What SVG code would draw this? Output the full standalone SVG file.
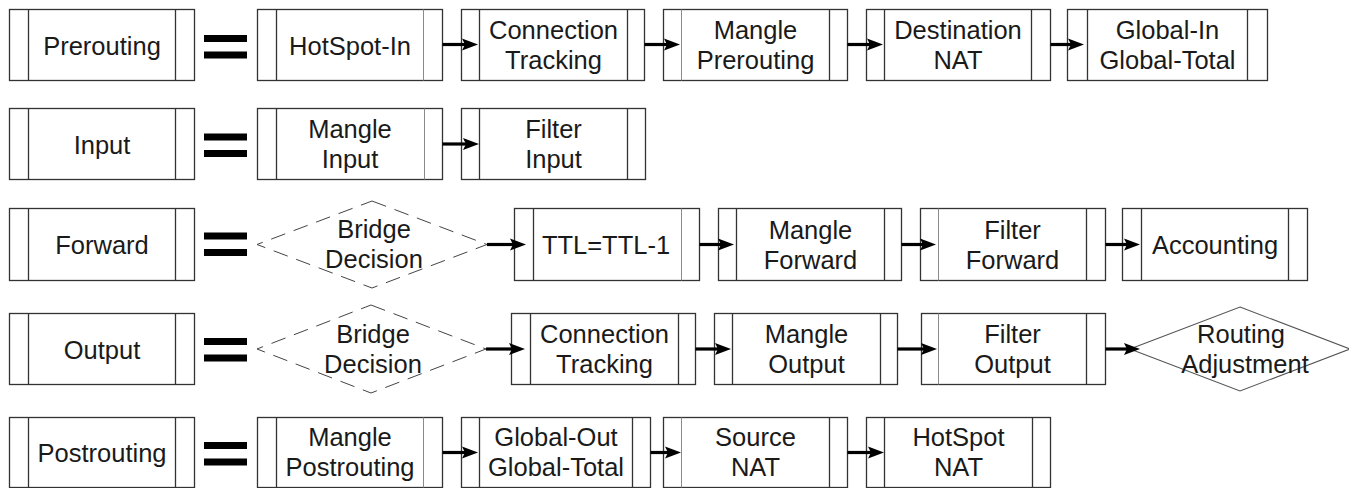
<svg xmlns="http://www.w3.org/2000/svg" width="1349" height="488" viewBox="0 0 1349 488">
  <style>
    .frame { fill: #ffffff; stroke: #333333; stroke-width: 1.3; }
    .band { stroke: #333333; stroke-width: 1.3; fill: none; }
    .band-lt { stroke: #8a8a8a; stroke-width: 1; fill: none; }
    .lbl { font-family: "Liberation Sans", Arial, Helvetica, sans-serif; font-size: 25.5px; fill: #1a1a1a; text-anchor: middle; }
    .eq { fill: #000000; }
    .decision { fill: none; stroke: #444444; stroke-width: 1; stroke-dasharray: 15 9; }
    .routing { fill: #ffffff; stroke: #555555; stroke-width: 1.1; }
    .link { stroke: #000000; stroke-width: 3.2; fill: none; marker-end: url(#head); }
  </style>
  <defs>
    <marker id="head" markerUnits="userSpaceOnUse" markerWidth="18" markerHeight="14" viewBox="0 0 18 14" refX="8" refY="7" orient="auto">
      <path d="M0,1 L16,7 L0,13 L3,7 Z" fill="#000000"/>
    </marker>
  </defs>

  <!-- row 1 : Prerouting -->
  <g id="prerouting">
    <rect class="frame" x="9.5" y="9.5" width="185" height="71"/>
    <path class="band" d="M28.5,9.5 V80.5 M175.5,9.5 V80.5"/>
    <text class="lbl" x="102" y="54.5">Prerouting</text>
  </g>
  <g id="eq-prerouting">
    <rect class="eq" x="204" y="35" width="43" height="7"/>
    <rect class="eq" x="204" y="51.5" width="43" height="7"/>
  </g>
  <g id="hotspot-in">
    <rect class="frame" x="257.5" y="9.5" width="185" height="71"/>
    <path class="band" d="M276.5,9.5 V80.5"/>
    <path class="band-lt" d="M423.5,9.5 V80.5"/>
    <text class="lbl" x="350" y="54.5">HotSpot-In</text>
  </g>
  <g id="conntrack-pre">
    <rect class="frame" x="461.5" y="9.5" width="183" height="71"/>
    <path class="band" d="M479.5,9.5 V80.5 M627.5,9.5 V80.5"/>
    <text class="lbl" x="553.5" y="38.5">Connection</text>
    <text class="lbl" x="553.5" y="68.5">Tracking</text>
  </g>
  <g id="mangle-prerouting">
    <rect class="frame" x="663.5" y="9.5" width="184" height="71"/>
    <path class="band-lt" d="M681.5,9.5 V80.5"/>
    <path class="band" d="M829.5,9.5 V80.5"/>
    <text class="lbl" x="755.5" y="38.5">Mangle</text>
    <text class="lbl" x="755.5" y="68.5">Prerouting</text>
  </g>
  <g id="dnat">
    <rect class="frame" x="866.5" y="9.5" width="184" height="71"/>
    <path class="band" d="M884.5,9.5 V80.5 M1031.5,9.5 V80.5"/>
    <text class="lbl" x="958" y="38.5">Destination</text>
    <text class="lbl" x="958" y="68.5">NAT</text>
  </g>
  <g id="global-in">
    <rect class="frame" x="1067.5" y="9.5" width="200" height="71"/>
    <path class="band" d="M1087.5,9.5 V80.5 M1247.5,9.5 V80.5"/>
    <text class="lbl" x="1167.5" y="38.5">Global-In</text>
    <text class="lbl" x="1167.5" y="68.5">Global-Total</text>
  </g>

  <!-- row 2 : Input -->
  <g id="input">
    <rect class="frame" x="9.5" y="108.5" width="185" height="71"/>
    <path class="band" d="M28.5,108.5 V179.5 M175.5,108.5 V179.5"/>
    <text class="lbl" x="102" y="153.5">Input</text>
  </g>
  <g id="eq-input">
    <rect class="eq" x="204" y="133.5" width="43" height="7"/>
    <rect class="eq" x="204" y="150" width="43" height="7"/>
  </g>
  <g id="mangle-input">
    <rect class="frame" x="257.5" y="108.5" width="185" height="71"/>
    <path class="band" d="M276.5,108.5 V179.5"/>
    <path class="band-lt" d="M424.5,108.5 V179.5"/>
    <text class="lbl" x="350" y="138">Mangle</text>
    <text class="lbl" x="350" y="168">Input</text>
  </g>
  <g id="filter-input">
    <rect class="frame" x="461.5" y="108.5" width="184" height="71"/>
    <path class="band" d="M479.5,108.5 V179.5 M627.5,108.5 V179.5"/>
    <text class="lbl" x="553.5" y="138">Filter</text>
    <text class="lbl" x="553.5" y="168">Input</text>
  </g>

  <!-- row 3 : Forward -->
  <g id="forward">
    <rect class="frame" x="9.5" y="208.5" width="185" height="72"/>
    <path class="band" d="M28.5,208.5 V280.5 M175.5,208.5 V280.5"/>
    <text class="lbl" x="102" y="254">Forward</text>
  </g>
  <g id="eq-forward">
    <rect class="eq" x="204" y="232.5" width="43" height="7"/>
    <rect class="eq" x="204" y="249" width="43" height="7"/>
  </g>
  <g id="bridge-forward">
    <path class="decision" d="M372,201 L487,244.5 L372,288 L257,244.5 Z"/>
    <text class="lbl" x="374" y="238">Bridge</text>
    <text class="lbl" x="374" y="268">Decision</text>
  </g>
  <g id="ttl">
    <rect class="frame" x="514.5" y="208.5" width="185" height="72"/>
    <path class="band" d="M533.5,208.5 V280.5"/>
    <path class="band-lt" d="M681.5,208.5 V280.5"/>
    <text class="lbl" x="606" y="254">TTL=TTL-1</text>
  </g>
  <g id="mangle-forward">
    <rect class="frame" x="718.5" y="208.5" width="183" height="72"/>
    <path class="band" d="M736.5,208.5 V280.5 M884.5,208.5 V280.5"/>
    <text class="lbl" x="810.5" y="238.5">Mangle</text>
    <text class="lbl" x="810.5" y="268.5">Forward</text>
  </g>
  <g id="filter-forward">
    <rect class="frame" x="920.5" y="208.5" width="185" height="72"/>
    <path class="band-lt" d="M938.5,208.5 V280.5"/>
    <path class="band" d="M1086.5,208.5 V280.5"/>
    <text class="lbl" x="1012.5" y="238.5">Filter</text>
    <text class="lbl" x="1012.5" y="268.5">Forward</text>
  </g>
  <g id="accounting">
    <rect class="frame" x="1122.5" y="208.5" width="185" height="72"/>
    <path class="band" d="M1141.5,208.5 V280.5 M1288.5,208.5 V280.5"/>
    <text class="lbl" x="1215" y="254">Accounting</text>
  </g>

  <!-- row 4 : Output -->
  <g id="output">
    <rect class="frame" x="9.5" y="313.5" width="185" height="71"/>
    <path class="band" d="M28.5,313.5 V384.5 M175.5,313.5 V384.5"/>
    <text class="lbl" x="102" y="358.5">Output</text>
  </g>
  <g id="eq-output">
    <rect class="eq" x="204" y="338" width="43" height="7"/>
    <rect class="eq" x="204" y="354.5" width="43" height="7"/>
  </g>
  <g id="bridge-output">
    <path class="decision" d="M371,305 L486,349 L371,393 L257,349 Z"/>
    <text class="lbl" x="373" y="343">Bridge</text>
    <text class="lbl" x="373" y="373">Decision</text>
  </g>
  <g id="conntrack-out">
    <rect class="frame" x="511.5" y="313.5" width="184" height="71"/>
    <path class="band" d="M530.5,313.5 V384.5 M678.5,313.5 V384.5"/>
    <text class="lbl" x="604.5" y="343">Connection</text>
    <text class="lbl" x="604.5" y="373">Tracking</text>
  </g>
  <g id="mangle-output">
    <rect class="frame" x="714.5" y="313.5" width="183" height="71"/>
    <path class="band" d="M732.5,313.5 V384.5 M880.5,313.5 V384.5"/>
    <text class="lbl" x="806.5" y="343">Mangle</text>
    <text class="lbl" x="806.5" y="373">Output</text>
  </g>
  <g id="filter-output">
    <rect class="frame" x="921.5" y="313.5" width="184" height="71"/>
    <path class="band-lt" d="M938.5,313.5 V384.5"/>
    <path class="band" d="M1086.5,313.5 V384.5"/>
    <text class="lbl" x="1012.5" y="343">Filter</text>
    <text class="lbl" x="1012.5" y="373">Output</text>
  </g>
  <g id="routing-adjustment">
    <path class="routing" d="M1240,307 L1350,349 L1240,391 L1130,349 Z"/>
    <text class="lbl" x="1241" y="343">Routing</text>
    <text class="lbl" x="1245" y="373">Adjustment</text>
  </g>

  <!-- row 5 : Postrouting -->
  <g id="postrouting">
    <rect class="frame" x="9.5" y="417.5" width="185" height="70"/>
    <path class="band" d="M28.5,417.5 V487.5 M175.5,417.5 V487.5"/>
    <text class="lbl" x="102" y="462">Postrouting</text>
  </g>
  <g id="eq-postrouting">
    <rect class="eq" x="204" y="442" width="43" height="7"/>
    <rect class="eq" x="204" y="458.5" width="43" height="7"/>
  </g>
  <g id="mangle-postrouting">
    <rect class="frame" x="257.5" y="417.5" width="185" height="70"/>
    <path class="band" d="M276.5,417.5 V487.5"/>
    <path class="band-lt" d="M423.5,417.5 V487.5"/>
    <text class="lbl" x="350" y="446">Mangle</text>
    <text class="lbl" x="350" y="476">Postrouting</text>
  </g>
  <g id="global-out">
    <rect class="frame" x="461.5" y="417.5" width="189" height="70"/>
    <path class="band" d="M479.5,417.5 V487.5 M632.5,417.5 V487.5"/>
    <text class="lbl" x="556" y="446">Global-Out</text>
    <text class="lbl" x="556" y="476">Global-Total</text>
  </g>
  <g id="snat">
    <rect class="frame" x="663.5" y="417.5" width="184" height="70"/>
    <path class="band-lt" d="M681.5,417.5 V487.5"/>
    <path class="band" d="M829.5,417.5 V487.5"/>
    <text class="lbl" x="755.5" y="446">Source</text>
    <text class="lbl" x="755.5" y="476">NAT</text>
  </g>
  <g id="hotspot-nat">
    <rect class="frame" x="866.5" y="417.5" width="184" height="70"/>
    <path class="band" d="M884.5,417.5 V487.5 M1032.5,417.5 V487.5"/>
    <text class="lbl" x="958.5" y="446">HotSpot</text>
    <text class="lbl" x="958.5" y="476">NAT</text>
  </g>

  <!-- connectors, drawn over the node bands; each line stops 8px short of the tip and the head covers the rest -->
  <g id="connectors">
    <!-- row 1 -->
    <path class="link" d="M442.5,44.5 H470"/>
    <path class="link" d="M644.5,44.5 H672"/>
    <path class="link" d="M847.5,44.5 H875"/>
    <path class="link" d="M1050.5,44.5 H1076"/>
    <!-- row 2 -->
    <path class="link" d="M442.5,144 H471"/>
    <!-- row 3 -->
    <path class="link" d="M487,244.5 H518"/>
    <path class="link" d="M699.5,244.5 H726"/>
    <path class="link" d="M901.5,244.5 H928"/>
    <path class="link" d="M1105.5,244.5 H1132"/>
    <!-- row 4 -->
    <path class="link" d="M486,349 H517"/>
    <path class="link" d="M695.5,349 H723"/>
    <path class="link" d="M897.5,349 H929"/>
    <path class="link" d="M1105.5,349 H1132"/>
    <!-- row 5 -->
    <path class="link" d="M442.5,452.5 H470"/>
    <path class="link" d="M650.5,452.5 H673"/>
    <path class="link" d="M847.5,452.5 H876"/>
  </g>
</svg>
